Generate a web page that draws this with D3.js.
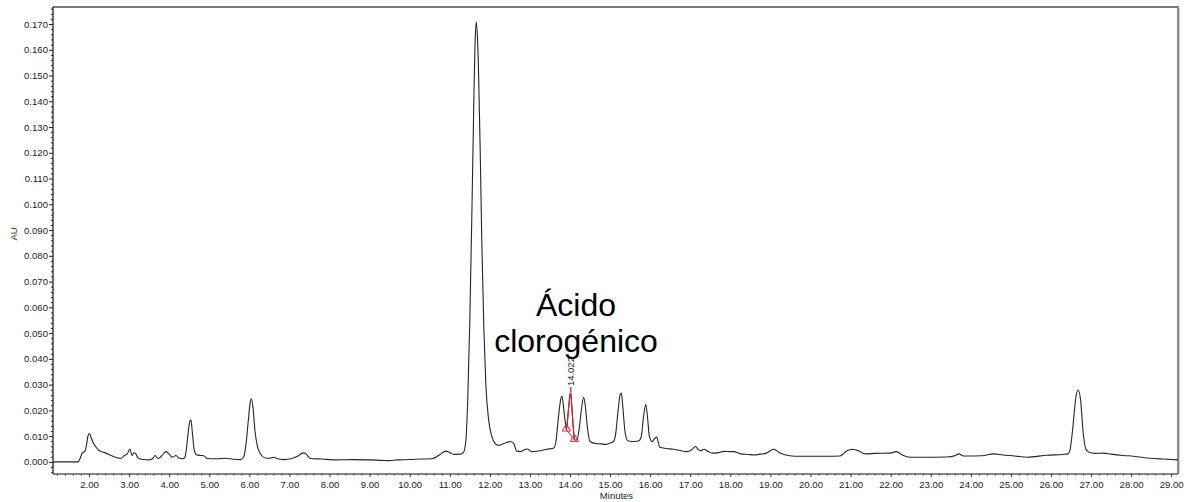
<!DOCTYPE html>
<html>
<head>
<meta charset="utf-8">
<script src="https://cdn.jsdelivr.net/npm/d3@7"></script>
<style>
  html, body { margin: 0; padding: 0; background: #fff; }
  svg { display: block; font-family: "Liberation Sans", Arial, sans-serif; }
</style>
</head>
<body>
<svg id="chart" width="1189" height="502"></svg>
<script>
// Chromatogram trace: retention time (min) and absorbance (AU)
const retentionTime = [
  1.10, 1.73, 1.78, 1.83, 1.90, 1.94, 1.98, 2.01, 2.05, 2.10, 2.17, 2.26, 2.40, 2.55, 2.70, 2.80,
  2.88, 2.95, 3.02, 3.07, 3.12, 3.16, 3.22, 3.35, 3.50, 3.58, 3.65, 3.72, 3.82, 3.92, 4.00, 4.07,
  4.17, 4.24, 4.33, 4.38, 4.42, 4.47, 4.51, 4.54, 4.58, 4.62, 4.68, 4.78, 4.86, 4.95, 5.20, 5.40,
  5.60, 5.78, 5.86, 5.92, 5.97, 6.02, 6.05, 6.09, 6.14, 6.20, 6.28, 6.40, 6.50, 6.60, 6.70, 6.85,
  7.05, 7.20, 7.35, 7.42, 7.52, 7.80, 8.10, 8.60, 9.00, 9.30, 9.50, 9.70, 10.00, 10.30, 10.55, 10.75,
  10.90, 11.00, 11.10, 11.25, 11.34, 11.40, 11.45, 11.50, 11.55, 11.60, 11.63, 11.66, 11.69, 11.72, 11.76, 11.80,
  11.85, 11.90, 11.97, 12.05, 12.13, 12.22, 12.38, 12.52, 12.60, 12.67, 12.76, 12.92, 13.05, 13.20, 13.42, 13.60,
  13.65, 13.69, 13.73, 13.77, 13.80, 13.84, 13.88, 13.91, 13.96, 14.00, 14.02, 14.06, 14.11, 14.17, 14.23, 14.29,
  14.34, 14.38, 14.43, 14.50, 14.62, 14.77, 14.90, 14.98, 15.08, 15.14, 15.20, 15.25, 15.28, 15.32, 15.37, 15.44,
  15.55, 15.65, 15.72, 15.78, 15.83, 15.89, 15.93, 15.98, 16.05, 16.10, 16.16, 16.24, 16.40, 16.58, 16.75, 16.91,
  17.02, 17.13, 17.20, 17.26, 17.34, 17.45, 17.55, 17.70, 17.84, 18.00, 18.09, 18.26, 18.45, 18.58, 18.75, 18.90,
  19.08, 19.25, 19.45, 19.60, 20.00, 20.40, 20.74, 20.90, 21.04, 21.18, 21.37, 21.60, 21.99, 22.14, 22.30, 22.49,
  22.80, 23.40, 23.62, 23.70, 23.82, 24.28, 24.57, 24.80, 25.10, 25.40, 25.90, 26.30, 26.42, 26.48, 26.55, 26.62,
  26.68, 26.74, 26.80, 26.87, 26.94, 27.10, 27.31, 27.50, 27.80, 28.06, 28.48, 28.80, 29.17
];
const absorbance = [
  0.0000, 0.0000, 0.0015, 0.0034, 0.0042, 0.0070, 0.0105, 0.0110, 0.0095, 0.0075, 0.0058, 0.0043, 0.0035, 0.0025, 0.0016, 0.0014,
  0.0025, 0.0030, 0.0050, 0.0025, 0.0035, 0.0033, 0.0015, 0.0009, 0.0008, 0.0012, 0.0025, 0.0013, 0.0025, 0.0040, 0.0030, 0.0018,
  0.0025, 0.0015, 0.0012, 0.0015, 0.0040, 0.0110, 0.0155, 0.0163, 0.0110, 0.0050, 0.0028, 0.0025, 0.0024, 0.0013, 0.0012, 0.0014,
  0.0010, 0.0009, 0.0020, 0.0075, 0.0155, 0.0230, 0.0245, 0.0210, 0.0120, 0.0060, 0.0030, 0.0015, 0.0014, 0.0018, 0.0012, 0.0009,
  0.0012, 0.0022, 0.0035, 0.0030, 0.0013, 0.0011, 0.0008, 0.0009, 0.0008, 0.0006, 0.0005, 0.0008, 0.0009, 0.0011, 0.0012, 0.0028,
  0.0042, 0.0036, 0.0029, 0.0030, 0.0036, 0.0080, 0.0250, 0.0550, 0.0950, 0.1400, 0.1620, 0.1708, 0.1650, 0.1500, 0.1200, 0.0850,
  0.0520, 0.0300, 0.0163, 0.0098, 0.0072, 0.0064, 0.0073, 0.0079, 0.0070, 0.0042, 0.0040, 0.0050, 0.0040, 0.0042, 0.0049, 0.0054,
  0.0080, 0.0140, 0.0200, 0.0245, 0.0256, 0.0210, 0.0155, 0.0125, 0.0200, 0.0262, 0.0267, 0.0180, 0.0085, 0.0085, 0.0130, 0.0210,
  0.0251, 0.0220, 0.0140, 0.0079, 0.0072, 0.0070, 0.0068, 0.0072, 0.0078, 0.0110, 0.0200, 0.0260, 0.0267, 0.0210, 0.0120, 0.0082,
  0.0079, 0.0080, 0.0082, 0.0100, 0.0170, 0.0224, 0.0180, 0.0100, 0.0078, 0.0088, 0.0096, 0.0057, 0.0052, 0.0049, 0.0044, 0.0040,
  0.0045, 0.0060, 0.0048, 0.0043, 0.0049, 0.0040, 0.0034, 0.0036, 0.0041, 0.0040, 0.0040, 0.0031, 0.0029, 0.0027, 0.0030, 0.0034,
  0.0049, 0.0034, 0.0025, 0.0022, 0.0022, 0.0022, 0.0023, 0.0042, 0.0049, 0.0044, 0.0031, 0.0033, 0.0034, 0.0040, 0.0026, 0.0018,
  0.0018, 0.0019, 0.0025, 0.0031, 0.0023, 0.0024, 0.0031, 0.0027, 0.0023, 0.0018, 0.0026, 0.0029, 0.0031, 0.0050, 0.0140, 0.0250,
  0.0279, 0.0240, 0.0120, 0.0050, 0.0038, 0.0033, 0.0034, 0.0030, 0.0025, 0.0022, 0.0014, 0.0011, 0.0008
];

// Integrated peak (chlorogenic acid): start / apex / end
const peakStart = [13.91, 0.0125];
const peakEnd = [14.11, 0.0085];
const peakApex = [14.022, 0.0267];
const peakLabel = "14.022";
const compoundLines = ["Ácido", "clorogénico"];

// Axis ticks
const xTickValues = d3.range(2, 30, 1);
const xMinorValues = d3.range(1.2, 29.2, 0.2).filter(v => Math.abs(v - Math.round(v)) > 0.01);
const yTickValues = d3.range(0, 0.1701, 0.01);
const yMinorValues = d3.range(-0.004, 0.1761, 0.002).filter(v => Math.abs(v * 100 - Math.round(v * 100)) > 0.01);
const xTitle = "Minutes";
const yTitle = "AU";

const svg = d3.select("#chart");
const plotLeft = 53, plotRight = 1178, plotTop = 7, plotBottom = 474;

const x = d3.scaleLinear().domain([1.1, 29.17]).range([plotLeft, plotRight]);
const y = d3.scaleLinear().domain([-0.0047, 0.1766]).range([plotBottom, plotTop]);

const trace = retentionTime.map((t, i) => [t, absorbance[i]]);

// Frame: grey top and right edges
svg.append("line").attr("x1", plotLeft).attr("x2", plotRight + 1).attr("y1", plotTop).attr("y2", plotTop)
  .attr("stroke", "#7a7a7a").attr("stroke-width", 2);
svg.append("line").attr("x1", plotRight).attr("x2", plotRight).attr("y1", plotTop).attr("y2", plotBottom)
  .attr("stroke", "#8a8a8a").attr("stroke-width", 2);
svg.append("line").attr("x1", plotRight + 1.5).attr("x2", plotRight + 1.5).attr("y1", plotTop + 1).attr("y2", plotBottom)
  .attr("stroke", "#cfcfcf").attr("stroke-width", 1);

// Y axis (major + minor)
const yAxis = svg.append("g").attr("transform", `translate(${plotLeft},0)`)
  .call(d3.axisLeft(y).tickValues(yTickValues).tickFormat(d3.format(".3f")).tickSize(4).tickSizeOuter(0));
yAxis.select(".domain").remove();
yAxis.selectAll("text").attr("font-size", 9.6).attr("fill", "#1c1c2c").attr("x", -5)
  .attr("font-family", "'Liberation Sans', Arial, sans-serif");
yAxis.selectAll(".tick line").attr("stroke", "#222");
svg.append("g").attr("transform", `translate(${plotLeft},0)`)
  .call(d3.axisLeft(y).tickValues(yMinorValues).tickFormat("").tickSize(2).tickSizeOuter(0))
  .call(g => g.select(".domain").remove())
  .selectAll(".tick line").attr("stroke", "#333");
svg.append("line").attr("x1", plotLeft).attr("x2", plotLeft).attr("y1", plotTop).attr("y2", plotBottom)
  .attr("stroke", "#111").attr("stroke-width", 1.2);

// X axis (major + minor)
const xAxis = svg.append("g").attr("transform", `translate(0,${plotBottom})`)
  .call(d3.axisBottom(x).tickValues(xTickValues).tickFormat(d3.format(".2f")).tickSize(3).tickSizeOuter(0));
xAxis.select(".domain").remove();
xAxis.selectAll("text").attr("font-size", 9.6).attr("fill", "#1c1c2c").attr("y", 7)
  .attr("font-family", "'Liberation Sans', Arial, sans-serif");
xAxis.selectAll(".tick line").attr("stroke", "#333");
svg.append("g").attr("transform", `translate(0,${plotBottom})`)
  .call(d3.axisBottom(x).tickValues(xMinorValues).tickFormat("").tickSize(1.5).tickSizeOuter(0))
  .call(g => g.select(".domain").remove())
  .selectAll(".tick line").attr("stroke", "#555");
svg.append("line").attr("x1", plotLeft).attr("x2", plotRight).attr("y1", plotBottom).attr("y2", plotBottom)
  .attr("stroke", "#111").attr("stroke-width", 1.2);

// Axis titles
svg.append("text").attr("x", (plotLeft + plotRight) / 2 + 1).attr("y", 499)
  .attr("text-anchor", "middle").attr("font-size", 9.5).attr("fill", "#1c1c2c").text(xTitle);
svg.append("text").attr("transform", "translate(17,234) rotate(-90)")
  .attr("text-anchor", "middle").attr("font-size", 9.5).attr("fill", "#1c1c2c").text(yTitle);

// Chromatogram trace
const line = d3.line().x(d => x(d[0])).y(d => y(d[1])).curve(d3.curveMonotoneX);
svg.append("path").datum(trace).attr("d", line)
  .attr("fill", "none").attr("stroke", "#262626").attr("stroke-width", 1.1);

// Integrated peak in red, with its baseline and start/end markers
const peakSegment = trace.filter(d => d[0] >= peakStart[0] - 1e-9 && d[0] <= peakEnd[0] + 1e-9);
svg.append("path").datum(peakSegment).attr("d", d3.line().x(d => x(d[0])).y(d => y(d[1])))
  .attr("fill", "none").attr("stroke", "#e8242a").attr("stroke-width", 1.1);
svg.append("line")
  .attr("x1", x(peakStart[0])).attr("y1", y(peakStart[1]))
  .attr("x2", x(peakEnd[0])).attr("y2", y(peakEnd[1]))
  .attr("stroke", "#e8242a").attr("stroke-width", 1);
svg.selectAll("path.marker").data([peakStart, peakEnd]).enter().append("path")
  .attr("class", "marker")
  .attr("d", d3.symbol().type(d3.symbolTriangle).size(30))
  .attr("transform", d => `translate(${x(d[0])},${y(d[1]) - 1})`)
  .attr("fill", "none").attr("stroke", "#e8242a").attr("stroke-width", 1);

// Retention time label above the apex
const ax = x(peakApex[0]), ay = y(peakApex[1]);
svg.append("line").attr("x1", ax).attr("x2", ax).attr("y1", ay - 1).attr("y2", ay - 6)
  .attr("stroke", "#222").attr("stroke-width", 1);
svg.append("text").attr("transform", `translate(${ax + 3.5},${ay - 7}) rotate(-90)`)
  .attr("font-size", 9.5).attr("fill", "#1c1c2c").text(peakLabel);

// Compound name
const nameG = svg.append("g").attr("font-size", 32).attr("fill", "#000").attr("text-anchor", "middle");
compoundLines.forEach((s, i) => {
  nameG.append("text").attr("x", 576).attr("y", 316 + i * 36).text(s);
});
</script>
</body>
</html>
